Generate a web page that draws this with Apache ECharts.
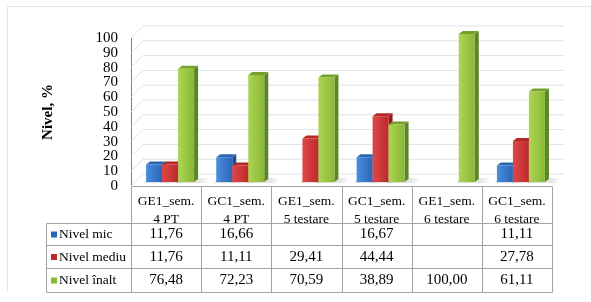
<!DOCTYPE html>
<html>
<head>
<meta charset="utf-8">
<script src="https://cdn.jsdelivr.net/npm/echarts@6/dist/echarts.min.js"></script>
<style>
  html, body { margin: 0; padding: 0; background: #fff; }
  #chart { width: 591px; height: 302px; }
</style>
</head>
<body>
<div id="chart"></div>
<script>
// date citite din tabel
var categories = ['GE1_sem.\n4 PT', 'GC1_sem.\n4 PT', 'GE1_sem.\n5 testare', 'GC1_sem.\n5 testare', 'GE1_sem.\n6 testare', 'GC1_sem.\n6 testare'];
var levelNames = ['Nivel mic', 'Nivel mediu', 'Nivel înalt'];
var nivelMic = [11.76, 16.66, null, 16.67, null, 11.11];
var nivelMediu = [11.76, 11.11, 29.41, 44.44, null, 27.78];
var nivelInalt = [76.48, 72.23, 70.59, 38.89, 100.00, 61.11];
var yTicks = [0, 10, 20, 30, 40, 50, 60, 70, 80, 90, 100];

var levels = [nivelMic, nivelMediu, nivelInalt];
var faceColors = [
  { front: ['#4a8ddf', '#2b66b8'], side: '#1f4f92', top: '#2c64b0' },
  { front: ['#e04848', '#bd2a2a'], side: '#8f1c1c', top: '#b42828' },
  { front: ['#acd552', '#8ab836'], side: '#5c8624', top: '#76a02c' }
];

var DX = 4, DY = 4;      // pozitia fetei din fata fata de planul axei
var DDX = 4, DDY = 3;    // adancimea barei
var WX = 12, WY = 12;    // peretele din spate
var serif = '"Liberation Serif", "Times New Roman", serif';

var chart = echarts.init(document.getElementById('chart'));

function fmt(v) {
  return v == null ? '' : v.toFixed(2).replace('.', ',');
}

function barGeom(api, k) {
  var band = api.size([1, 0])[0];
  var w = band * 0.228;
  var top = api.coord([api.value(0), api.value(1)]);
  var base = api.coord([api.value(0), 0]);
  return { w: w, x: top[0] - 1.5 * w + k * w + DX, yt: top[1] - DY, yb: base[1] - DY };
}

function shadowSeries(k) {
  return {
    type: 'custom',
    z: 2,
    data: levels[k].map(function (v, i) { return [i, v]; }),
    renderItem: function (params, api) {
      var v = api.value(1);
      if (v == null || isNaN(v)) return;
      var g = barGeom(api, k);
      var tail = k === 2 ? 12 : 4;
      return {
        type: 'polygon',
        shape: { points: [[g.x - 2, g.yb + 1], [g.x + g.w + tail, g.yb + 1], [g.x + g.w + tail + 4, g.yb - 4], [g.x + 2, g.yb - 4]] },
        style: {
          fill: new echarts.graphic.LinearGradient(0, 0, 1, 0, [
            { offset: 0, color: 'rgba(0,0,0,0.14)' },
            { offset: 0.7, color: 'rgba(0,0,0,0.10)' },
            { offset: 1, color: 'rgba(0,0,0,0)' }
          ])
        }
      };
    }
  };
}

function barSeries(k) {
  return {
    type: 'custom',
    name: levelNames[k],
    z: 3 + k,
    data: levels[k].map(function (v, i) { return [i, v]; }),
    renderItem: function (params, api) {
      var v = api.value(1);
      if (v == null || isNaN(v)) return;
      var g = barGeom(api, k);
      var x = g.x, w = g.w, yt = g.yt, yb = g.yb;
      var c = faceColors[k];
      return {
        type: 'group',
        children: [
          {
            type: 'polygon',
            shape: { points: [[x + w, yt], [x + w + DDX, yt - DDY], [x + w + DDX, yb - DDY], [x + w, yb]] },
            style: { fill: c.side }
          },
          {
            type: 'polygon',
            shape: { points: [[x, yt], [x + w, yt], [x + w + DDX, yt - DDY], [x + DDX, yt - DDY]] },
            style: { fill: c.top }
          },
          {
            type: 'rect',
            shape: { x: x, y: yt, width: w, height: yb - yt },
            style: {
              fill: new echarts.graphic.LinearGradient(0, 0, 1, 0, [
                { offset: 0, color: c.front[0] },
                { offset: 1, color: c.front[1] }
              ])
            }
          }
        ]
      };
    }
  };
}

var option = {
  animation: false,
  grid: { left: 131, right: 39, top: 38, bottom: 116 },
  xAxis: {
    type: 'category',
    data: categories,
    axisLine: { show: false },
    axisTick: { show: false },
    axisLabel: { show: false }
  },
  yAxis: {
    type: 'value',
    min: 0,
    max: 100,
    interval: 10,
    name: 'Nivel, %',
    nameLocation: 'middle',
    nameRotate: 90,
    nameGap: 75,
    nameTextStyle: { fontFamily: serif, fontWeight: 'bold', fontSize: 15, color: '#000' },
    axisLine: { show: true, lineStyle: { color: '#7f7f7f', width: 1 } },
    axisTick: { show: false },
    splitLine: { show: false },
    axisLabel: { show: false }
  },
  series: [
    {
      // liniile de grila in perspectiva + etichetele axei
      type: 'custom',
      z: 1,
      data: yTicks.map(function (t) { return [0, t]; }),
      renderItem: function (params, api) {
        var p = api.coord([0, api.value(1)]);
        var cs = params.coordSys;
        var x0 = cs.x;
        return {
          type: 'group',
          children: [
            {
              type: 'polyline',
              shape: { points: [[x0, p[1]], [x0 + WX, p[1] - WY], [cs.x + cs.width + WX, p[1] - WY]] },
              style: { stroke: '#dbe2ea', lineWidth: 1, fill: null }
            },
            {
              type: 'text',
              style: {
                text: String(api.value(1)), x: x0 - 13, y: p[1],
                align: 'right', verticalAlign: 'middle',
                font: '15px ' + serif, fill: '#000'
              }
            }
          ]
        };
      }
    },
    shadowSeries(0),
    shadowSeries(1),
    shadowSeries(2),
    barSeries(0),
    barSeries(1),
    barSeries(2)
  ]
};

chart.setOption(option);

// tabelul de date de sub grafic
var c0 = chart.convertToPixel({ xAxisIndex: 0 }, 0);
var band = chart.convertToPixel({ xAxisIndex: 0 }, 1) - c0;
var xL = Math.round(c0 - band / 2) + 0.5;
var xR = Math.round(c0 - band / 2 + band * categories.length) + 0.5;
var yTop = chart.convertToPixel({ yAxisIndex: 0 }, 0) + 0.5;
var rowY = [223.5, 245.5, 268.5, 292.5];
var labX = 46.5;
var lineCol = '#a3a3a3';
var els = [];

function hline(x1, x2, y) {
  els.push({ type: 'line', z: 20, shape: { x1: x1, y1: y, x2: x2, y2: y }, style: { stroke: lineCol, lineWidth: 1 } });
}
function vline(x, y1, y2) {
  els.push({ type: 'line', z: 20, shape: { x1: x, y1: y1, x2: x, y2: y2 }, style: { stroke: lineCol, lineWidth: 1 } });
}

hline(xL, xR, yTop);
rowY.forEach(function (y) { hline(labX, xR, y); });
for (var i = 0; i <= categories.length; i++) {
  vline(Math.round(c0 - band / 2 + band * i) + 0.5, yTop, rowY[3]);
}
vline(labX, rowY[0], rowY[3]);

categories.forEach(function (c, i) {
  els.push({
    type: 'text', z: 10,
    style: {
      text: c, x: c0 + band * i, y: 210,
      align: 'center', verticalAlign: 'middle',
      font: '13.5px ' + serif, lineHeight: 18, fill: '#000'
    }
  });
});

levels.forEach(function (arr, k) {
  var yc = (rowY[k] + rowY[k + 1]) / 2;
  els.push({
    type: 'rect', z: 10,
    shape: { x: 51, y: yc - 3, width: 6, height: 6 },
    style: { fill: faceColors[k].front[1] }
  });
  els.push({
    type: 'text', z: 10,
    style: { text: levelNames[k], x: 59, y: yc, align: 'left', verticalAlign: 'middle', font: '13.5px ' + serif, fill: '#000' }
  });
  arr.forEach(function (v, i) {
    els.push({
      type: 'text', z: 10,
      style: { text: fmt(v), x: c0 + band * i, y: yc, align: 'center', verticalAlign: 'middle', font: '15px ' + serif, fill: '#000' }
    });
  });
});

// rama discreta
els.push({ type: 'line', z: 0, shape: { x1: 7.5, y1: 6.5, x2: 591, y2: 6.5 }, style: { stroke: '#e6e6e6', lineWidth: 1 } });
els.push({ type: 'line', z: 0, shape: { x1: 7.5, y1: 6.5, x2: 7.5, y2: 292 }, style: { stroke: '#e6e6e6', lineWidth: 1 } });

chart.setOption({ graphic: { elements: els } });
</script>
</body>
</html>
